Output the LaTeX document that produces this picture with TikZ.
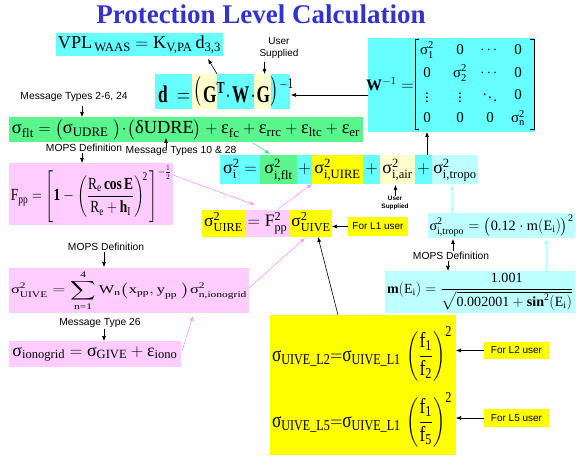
\documentclass[tikz,border=0pt]{standalone}
\usepackage{amsmath}
\usepackage{graphicx}
\usepackage{fontspec}
\setmainfont{Liberation Serif}
\newfontfamily\sansf{Liberation Sans}
\usetikzlibrary{arrows.meta,calc}
\definecolor{cy}{RGB}{102,255,255}
\definecolor{gr}{RGB}{90,245,140}
\definecolor{ye}{RGB}{255,255,0}
\definecolor{py}{RGB}{255,255,204}
\definecolor{lc}{RGB}{190,255,255}
\definecolor{pk}{RGB}{255,204,255}
\definecolor{ttl}{RGB}{51,51,204}
\definecolor{pkl}{RGB}{255,150,255}
\definecolor{cyl}{RGB}{170,255,255}
\definecolor{grl}{RGB}{60,235,130}
\newcommand\tx[1]{\text{#1}}
\newcommand\fs[1]{\fontsize{#1}{#1}\selectfont}
\newcommand\hsq[1]{\scalebox{0.72}[1]{#1}}
\newcommand\fit[2]{\resizebox{#1pt}{!}{#2}}
\newcommand\fitwh[3]{\resizebox*{#1pt}{#2pt}{#3}}
\begin{document}
\begin{tikzpicture}[x=1pt,y=-1pt,
  seg/.style={anchor=north west,inner sep=0pt,outer sep=0pt},
  lbl/.style={inner sep=0pt,font=\sansf\fontsize{10.3}{12}\selectfont},
  arr/.style={-{Latex[length=5pt,width=4pt]},line width=0.6pt},
  pkarr/.style={arr,draw=pkl},
  cyarr/.style={arr,draw=cyl,line width=0.8pt},
  grarr/.style={arr,draw=grl},
  dt/.style={anchor=base west,inner sep=0pt,font=\fs{24}},
  iseg/.style={seg,minimum height=29pt,text height=14pt,text depth=5pt,font=\fs{18}},
  useg/.style={seg,minimum height=27pt,text height=13pt,text depth=6pt,font=\fs{17.5}},
  ent/.style={inner sep=0pt,font=\fs{15}}]
\path[fill=white,use as bounding box] (0,0) rectangle (576,457);

% title
\node[inner sep=0pt,font=\fs{27}\bfseries,text=ttl] (title) at (261,14) {Protection Level Calculation};

% VPL
\node[seg,fill=cy,minimum width=167pt,minimum height=23pt,font=\fs{18}] (vpl) at (56,33)
  {\fit{163}{$\tx{VPL}_{\,\tx{WAAS}} = \tx{K}_{\tx{V,PA}}\,\tx{d}_{\tx{3,3}}$}};

\node[lbl,align=center,font=\sansf\fontsize{10}{12}\selectfont] (us1) at (279,48) {User\\Supplied};

% d box fills
\node[seg,fill=cy,minimum width=37pt,minimum height=35pt] (d1) at (155,74) {};
\node[seg,fill=py,minimum width=25pt,minimum height=35pt] (d2) at (192,74) {};
\node[seg,fill=cy,minimum width=37pt,minimum height=35pt] (d3) at (217,74) {};
\node[seg,fill=py,minimum width=17pt,minimum height=35pt] (d4) at (254,74) {};
\node[seg,fill=cy,minimum width=19pt,minimum height=35pt] (d5) at (271,74) {};
% d box text
\node[dt] (dt1) at (158,103) {\hsq{$\mathbf{d}$}};
\node[dt] (dt2) at (177,103) {\hsq{$=$}};
\node[inner sep=0pt,font=\fs{24}] (dp1) at (197.5,91.5) {\hsq{$\bigl($}};
\node[dt] (dt4) at (203,103) {\hsq{$\mathbf{G}^{\mathbf{T}}$}};
\node[dt] (dt5) at (225.5,103) {\hsq{$\cdot$}};
\node[dt] (dt6) at (232,103) {\hsq{$\mathbf{W}$}};
\node[dt] (dt7) at (250.5,103) {\hsq{$\cdot$}};
\node[dt] (dt8) at (256.5,103) {\hsq{$\mathbf{G}$}};
\node[inner sep=0pt,font=\fs{24}] (dp2) at (275,91.5) {\hsq{$\bigr)$}};
\node[dt,font=\fs{15}] (dt9) at (279.5,89) {\hsq{$-\tx{1}$}};

% W box
\node[seg,fill=cy,minimum width=167pt,minimum height=94pt] (wbox) at (368,38) {};
\node[inner sep=0pt,font=\fs{16}] (winv) at (390,84) {$\mathbf{W}^{-1}=$};
\draw[line width=0.8pt] (419,39) -- (415,39) -- (415,129) -- (419,129);
\draw[line width=0.8pt] (530,39) -- (534,39) -- (534,129) -- (530,129);
\node[ent] (w11) at (427,50) {$\tx{σ}^{\tx{2}}_{\tx{1}}$};
\node[ent] (w12) at (460,50) {0};
\node[ent] (w13) at (490,50) {$\cdots$};
\node[ent] (w14) at (518,50) {0};
\node[ent] (w21) at (427,73) {0};
\node[ent] (w22) at (460,73) {$\tx{σ}^{\tx{2}}_{\tx{2}}$};
\node[ent] (w23) at (490,73) {$\cdots$};
\node[ent] (w24) at (518,73) {0};
\node[ent] (w31) at (427,95) {$\vdots$};
\node[ent] (w32) at (460,95) {$\vdots$};
\node[ent] (w33) at (490,95) {$\ddots$};
\node[ent] (w34) at (518,95) {0};
\node[ent] (w41) at (427,118) {0};
\node[ent] (w42) at (460,118) {0};
\node[ent] (w43) at (490,118) {0};
\node[ent] (w44) at (518,118) {$\tx{σ}^{\tx{2}}_{\tx{n}}$};

% labels
\node[lbl] (m1) at (74,97) {Message Types 2-6, 24};
\node[lbl] (m2) at (84,148) {MOPS Definition};
\node[lbl] (m3) at (181,151) {Message Types 10 \& 28};
\node[lbl] (m4) at (451,256) {MOPS Definition};
\node[lbl] (m5) at (106,247) {MOPS Definition};
\node[lbl] (m6) at (100,323) {Message Type 26};

% green
\node[seg,fill=gr,minimum width=354pt,minimum height=25pt,font=\fs{19}] (flt) at (9,117)
  {\fit{348}{$\tx{σ}_{\tx{flt}} = \bigl(\tx{σ}_{\tx{UDRE}}\;\bigr)\!\cdot\!\bigl(\tx{δUDRE}\bigr) + \tx{ε}_{\tx{fc}} + \tx{ε}_{\tx{rrc}} + \tx{ε}_{\tx{ltc}} + \tx{ε}_{\tx{er}}$}};

% sigma_i
\node[iseg,fill=cy,minimum width=40pt] (i1) at (220,155) {$\tx{σ}^{\tx{2}}_{\tx{i}} =$};
\node[iseg,fill=gr,minimum width=37pt] (i2) at (260,155) {$\tx{σ}^{\tx{2}}_{\tx{i,flt}}$};
\node[iseg,fill=cy,minimum width=15pt] (i3) at (297,155) {$+$};
\node[iseg,fill=ye,minimum width=51pt] (i4) at (312,155) {$\tx{σ}^{\tx{2}}_{\tx{i,UIRE}}$};
\node[iseg,fill=cy,minimum width=17pt] (i5) at (363,155) {$+$};
\node[iseg,fill=py,minimum width=35pt] (i6) at (380,155) {$\tx{σ}^{\tx{2}}_{\tx{i,air}}$};
\node[iseg,fill=cy,minimum width=17pt] (i7) at (415,155) {$+$};
\node[iseg,fill=lc,minimum width=46pt] (i8) at (432,155) {$\tx{σ}^{\tx{2}}_{\tx{i,tropo}}$};

\node[inner sep=0pt,align=center,font=\sansf\bfseries\fontsize{6.4}{8}\selectfont] (us2) at (395,203) {User\\Supplied};

% Fpp
\node[seg,fill=pk,minimum width=164pt,minimum height=62pt,font=\fs{17}] (fpp) at (9,163)
  {\fitwh{160}{57}{$\displaystyle \tx{F}_{\tx{pp}} = \left[\textbf{1} - \left(\frac{\tx{R}_{\tx{e}}\,\textbf{cos\,E}}{\tx{R}_{\tx{e}} + \textbf{h}_{\tx{I}}}\right)^{\!\tx{2}}\,\right]^{-\frac{1}{2}}$}};

% UIRE row
\node[useg,fill=ye,minimum width=43pt] (u1) at (202,210) {$\tx{σ}^{\tx{2}}_{\tx{UIRE}}$};
\node[useg,fill=pk,minimum width=45pt] (u2) at (245,210) {$= \tx{F}^{\tx{2}}_{\tx{pp}}$};
\node[useg,fill=ye,minimum width=42pt] (u3) at (290,210) {$\tx{σ}^{\tx{2}}_{\tx{UIVE}}$};

\node[seg,fill=ye,minimum width=60pt,minimum height=19pt,font=\sansf\fs{10}] (l1) at (348,217) {For L1 user};

% tropo
\node[seg,fill=lc,minimum width=147pt,minimum height=25pt,font=\fs{16}] (tropo) at (428,213)
  {\fit{144}{$\tx{σ}^{\tx{2}}_{\tx{i,tropo}} = \bigl(\tx{0.12}\cdot\tx{m}(\tx{E}_{\tx{i}})\bigr)^{\tx{2}}$}};

% m box
\node[seg,fill=lc,minimum width=190pt,minimum height=42pt,font=\fs{16}] (mbox) at (385,271)
  {\fit{186}{$\displaystyle \textbf{m}(\tx{E}_{\tx{i}}) = \frac{\tx{1.001}}{\sqrt{\tx{0.002001} + \textbf{sin}^{\tx{2}}(\tx{E}_{\tx{i}})}}$}};

% UIVE
\node[seg,fill=pk,minimum width=240pt,minimum height=45pt,font=\fs{16}] (uive) at (9,268)
  {\fitwh{236}{40}{$\displaystyle \tx{σ}^{\tx{2}}_{\tx{UIVE}} = \sum_{\tx{n=1}}^{\tx{4}} \tx{W}_{\tx{n}}\bigl(\tx{x}_{\tx{pp}}, \tx{y}_{\tx{pp}}\;\bigr)\tx{σ}^{\tx{2}}_{\tx{n,ionogrid}}$}};

% ionogrid
\node[seg,fill=pk,minimum width=172pt,minimum height=26pt,font=\fs{18}] (iono) at (9,341)
  {\fit{165}{$\tx{σ}_{\tx{ionogrid}} = \tx{σ}_{\tx{GIVE}} + \tx{ε}_{\tx{iono}}$}};

% big yellow
\node[seg,fill=ye,minimum width=186pt,minimum height=140pt] (big) at (270,315) {};
\node[inner sep=0pt,font=\fs{18}] (f2) at (362,354)
  {\fitwh{180}{54}{$\tx{σ}_{\tx{UIVE\_L2}}{=}\tx{σ}_{\tx{UIVE\_L1}}\,\left(\dfrac{\tx{f}_{\tx{1}}}{\tx{f}_{\tx{2}}}\right)^{\tx{2}}$}};
\node[inner sep=0pt,font=\fs{18}] (f5) at (362,420)
  {\fitwh{180}{54}{$\tx{σ}_{\tx{UIVE\_L5}}{=}\tx{σ}_{\tx{UIVE\_L1}}\,\left(\dfrac{\tx{f}_{\tx{1}}}{\tx{f}_{\tx{5}}}\right)^{\tx{2}}$}};

\node[seg,fill=ye,minimum width=65pt,minimum height=17pt,font=\sansf\fs{10}] (l2) at (484,342) {For L2 user};
\node[seg,fill=ye,minimum width=65pt,minimum height=18pt,font=\sansf\fs{10}] (l5) at (484,409) {For L5 user};

% connectors
\draw[arr] (d3.north west) -- ($(vpl.south east)+(-15,3)$);
\draw[arr] ($(d4.north)+(2,-12)$) -- ($(d4.north)+(2,0)$);
\draw[arr] ($(wbox.north west)+(0,57)$) -- ($(d5.north east)+(1,21)$);
\draw[arr] ($(flt.north west)+(73,-11)$) -- ($(flt.north west)+(73,0)$);
\draw[arr] ($(fpp.north west)+(73,-10)$) -- ($(fpp.north west)+(73,0)$);
\draw[arr] ($(flt.south west)+(157,6)$) -- ($(flt.south west)+(157,-4)$);
\draw[grarr] ($(flt.south west)+(244,1)$) -- ($(i2.north west)+(10,-1)$);
\draw[arr] ($(i7.north west)+(12,0)$) -- ($(wbox.south west)+(59,0)$);
\draw[arr] ($(i6.south)+(-2,12)$) -- ($(i6.south)+(-2,1)$);
\draw[pkarr] ($(fpp.north east)+(0,12)$) -- ($(u2.north west)+(10,-5)$);
\draw[pkarr] ($(u2.north west)+(33,-1)$) -- (i4.south west);
\draw[arr] (l1.west) -- (u3.east |- l1.west);
\draw[arr] ($(big.north west)+(68,0)$) -- ($(u3.south west)+(28,0)$);
\draw[cyarr] ($(tropo.north west)+(24,0)$) -- ($(i8.south west)+(20,1)$);
\draw[arr] ($(m4.north)+(2,-1)$) -- ($(tropo.south west)+(25,1)$);
\draw[arr] ($(m4.south)+(-3,1)$) -- ($(mbox.north west)+(63,0)$);
\draw[cyarr] ($(mbox.north east)+(-29,0)$) -- ($(tropo.south east)+(-29,1)$);
\draw[arr] ($(m5.south)+(-2,1)$) -- ($(uive.north west)+(95,-1)$);
\draw[arr] ($(m6.south)+(4,1)$) -- ($(iono.north west)+(95,0)$);
\draw[pkarr] ($(iono.east)+(1,-3)$) -- ($(uive.south west)+(184,3)$);
\draw[pkarr] ($(uive.north east)+(0,20)$) -- ($(u3.south west)+(15,1)$);
\draw[arr] (l2.west) -- (big.east |- l2.west);
\draw[arr] (l5.west) -- (big.east |- l5.west);
\end{tikzpicture}
\end{document}
